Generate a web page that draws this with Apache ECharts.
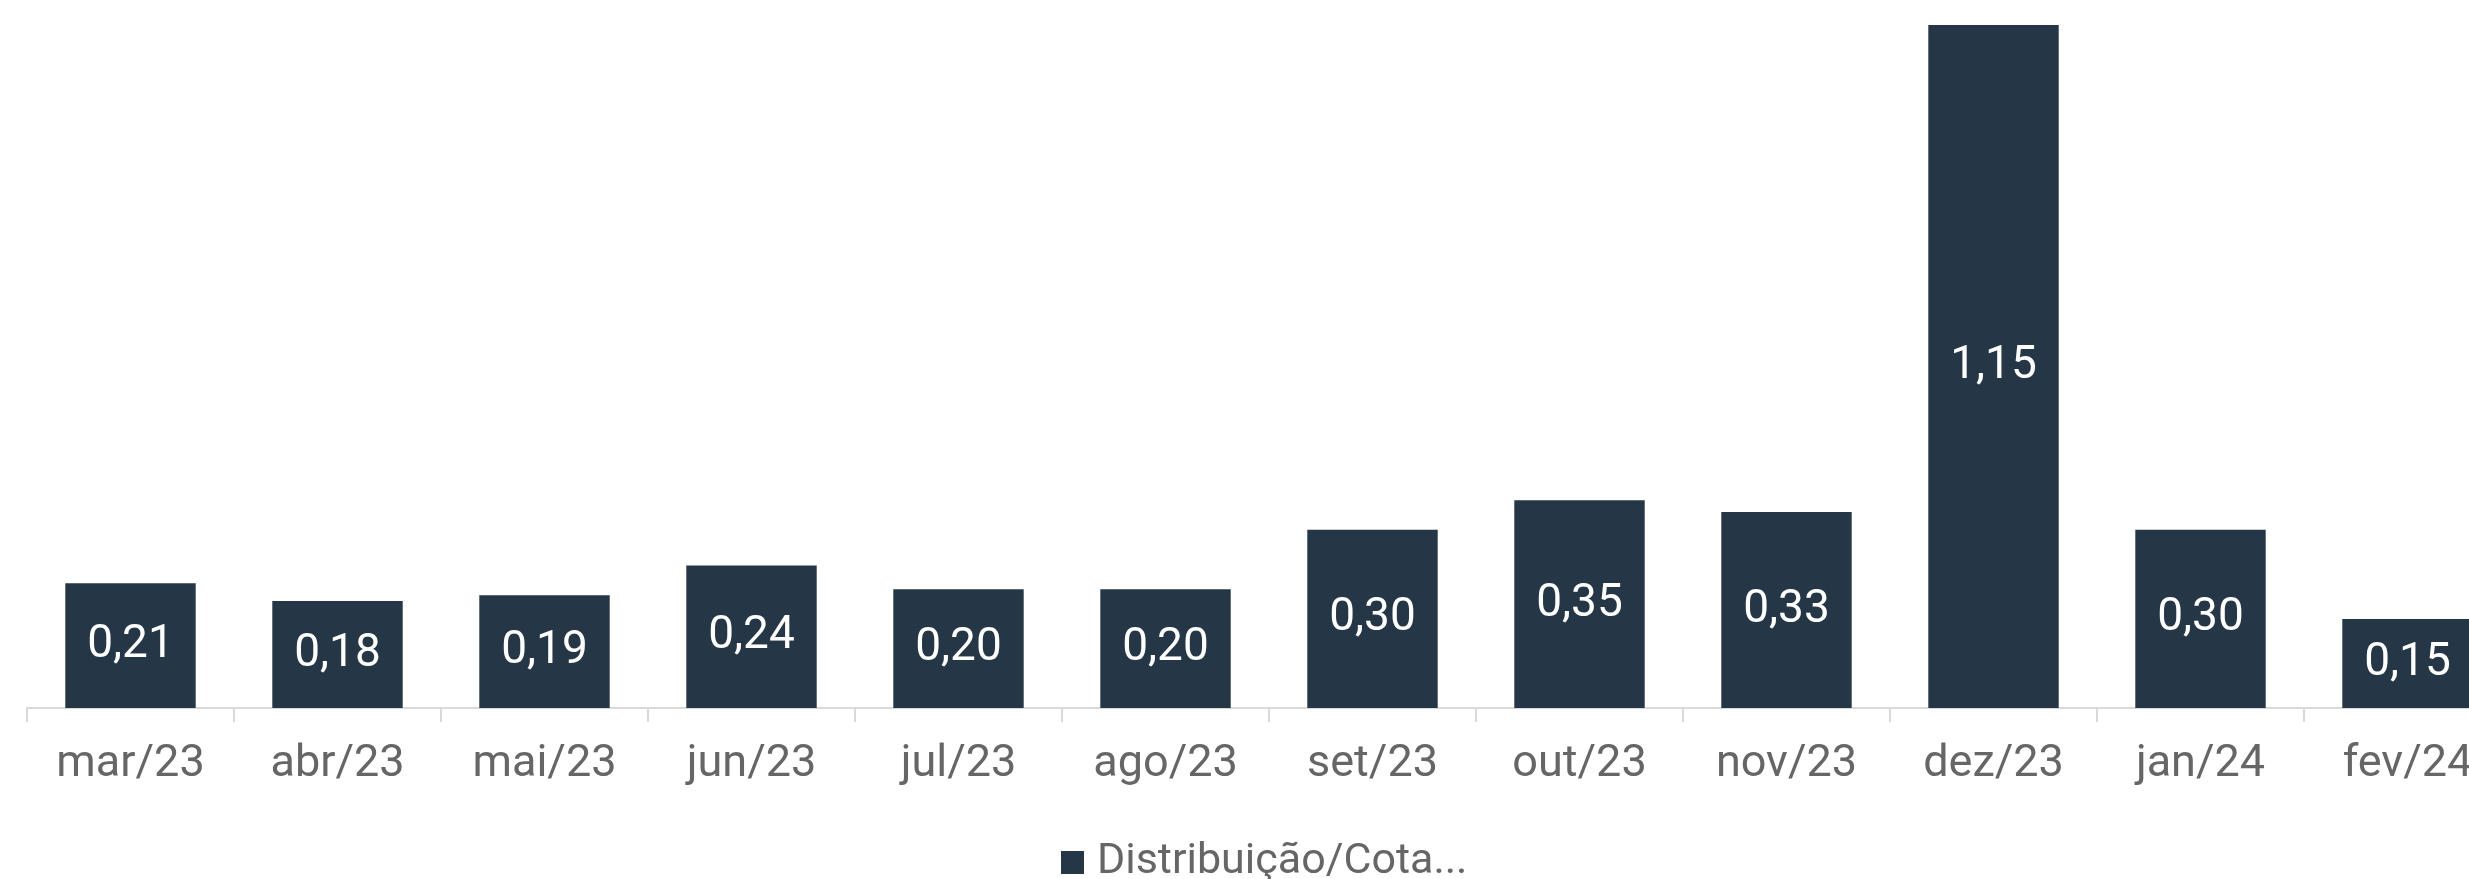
<!DOCTYPE html>
<html>
<head>
<meta charset="utf-8">
<script src="https://cdn.jsdelivr.net/npm/echarts@6/dist/echarts.min.js"></script>
<style>
  html, body { margin: 0; padding: 0; background: #fff; }
  #chart { width: 2469px; height: 879px; }
</style>
</head>
<body>
<div id="chart"></div>
<script>
  // meses
  var categorias = ['mar/23', 'abr/23', 'mai/23', 'jun/23', 'jul/23', 'ago/23',
                    'set/23', 'out/23', 'nov/23', 'dez/23', 'jan/24', 'fev/24'];
  // distribuição por cota (R$)
  var distribuicao = [0.21, 0.18, 0.19, 0.24, 0.20, 0.20, 0.30, 0.35, 0.33, 1.15, 0.30, 0.15];
  var nomeSerie = 'Distribuição/Cota...';

  var fonte = 'Roboto, "Noto Sans", sans-serif';
  var myChart = echarts.init(document.getElementById('chart'));
  myChart.setOption({
    animation: false,
    // a última categoria passa da borda direita, como no original
    grid: { left: 27, width: 2484, top: 25, bottom: 171, containLabel: false, outerBoundsMode: 'none' },
    legend: {
      data: [nomeSerie],
      left: 1056,
      top: 836,
      icon: 'rect',
      itemWidth: 23,
      itemHeight: 23,
      textStyle: { color: '#666666', fontSize: 43, fontFamily: fonte, padding: [0, 0, 24, 8] }
    },
    xAxis: {
      type: 'category',
      data: categorias,
      axisLine: { lineStyle: { color: '#d9d9d9', width: 2 } },
      axisTick: { show: true, length: 14, lineStyle: { color: '#d9d9d9', width: 2 } },
      axisLabel: { color: '#666666', fontSize: 45, fontFamily: fonte, margin: 34 }
    },
    yAxis: {
      type: 'value',
      min: 0,
      max: 1.15,
      show: false,
      splitLine: { show: false }
    },
    series: [{
      name: nomeSerie,
      type: 'bar',
      data: distribuicao,
      barWidth: '63%',
      itemStyle: { color: '#253746' },
      label: {
        show: true,
        position: 'inside',
        color: '#ffffff',
        fontSize: 46,
        fontFamily: fonte,
        formatter: function (p) { return p.value.toFixed(2).replace('.', ','); }
      }
    }]
  });
</script>
</body>
</html>
